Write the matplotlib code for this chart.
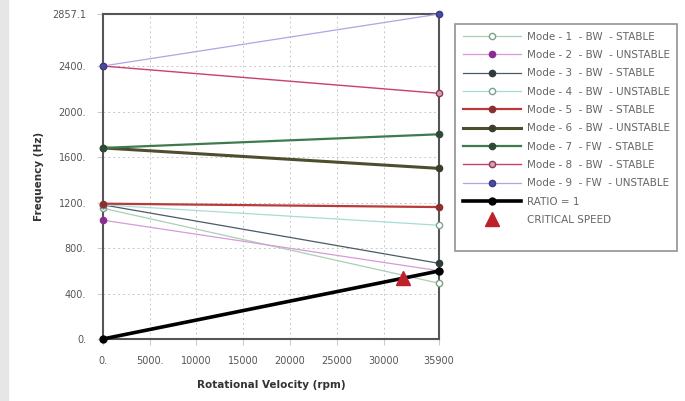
import matplotlib.pyplot as plt
from matplotlib.patches import Rectangle
from matplotlib.lines import Line2D

speed = [0, 35900]
mode1 = [1150, 490]
mode2 = [1045, 600]
mode3 = [1180, 665]
mode4 = [1180, 1000]
mode5 = [1190, 1160]
mode6 = [1680, 1500]
mode7 = [1680, 1800]
mode8 = [2400, 2160]
mode9 = [2400, 2857.1]
ratio = [0, 598.3]
crit_speed = [32000]
crit_freq = [535]

labels = ["Mode - 1  - BW  - STABLE", "Mode - 2  - BW  - UNSTABLE", "Mode - 3  - BW  - STABLE",
          "Mode - 4  - BW  - UNSTABLE", "Mode - 5  - BW  - STABLE", "Mode - 6  - BW  - UNSTABLE",
          "Mode - 7  - FW  - STABLE", "Mode - 8  - BW  - STABLE", "Mode - 9  - FW  - UNSTABLE",
          "RATIO = 1", "CRITICAL SPEED"]

xticks = [0, 5000, 10000, 15000, 20000, 25000, 30000, 35900]
xticklabels = ["0.", "5000.", "10000", "15000", "20000", "25000", "30000", "35900"]
yticks = [0, 400, 800, 1200, 1600, 2000, 2400, 2857.1]
yticklabels = ["0.", "400.", "800.", "1200.", "1600.", "2000.", "2400.", "2857.1"]

fig = plt.figure(figsize=(6.85, 4.01), dpi=100)
fig.patches.append(Rectangle((0, 0), 0.012, 1, transform=fig.transFigure, color="#e6e6e6", zorder=0))
ax = fig.add_axes([0.150, 0.1546, 0.491, 0.8104])

# (values, line colour, line width, marker face, marker edge)
styles = [
    (mode1, "#a8d0b4", 0.9, "white", "#7f9f88"),
    (mode2, "#d79ad8", 0.9, "#8a2d8e", "#8a2d8e"),
    (mode3, "#4b5a66", 0.9, "#2f3a3f", "#2f3a3f"),
    (mode4, "#a6dcd6", 0.9, "white", "#7f9f96"),
    (mode5, "#b83a3a", 1.6, "#8a3030", "#8a3030"),
    (mode6, "#4e4e2e", 2.2, "#3a3f2c", "#3a3f2c"),
    (mode7, "#3f7a4e", 1.6, "#2d4a35", "#2d4a35"),
    (mode8, "#c8406c", 1.0, "#d8a0b0", "#8a3a50"),
    (mode9, "#a8a8e6", 0.9, "#4a4aa0", "#3a3a80"),
]
for (vals, col, lw, mfc, mec), lab in zip(styles, labels):
    ax.plot(speed, vals, color=col, lw=lw, marker="o", ms=4.5, mfc=mfc, mec=mec,
            mew=1, label=lab, clip_on=False, zorder=3)

ax.plot(speed, ratio, color="black", lw=2.6, marker="o", ms=5, label=labels[9],
        clip_on=False, zorder=4)
ax.plot(crit_speed, crit_freq, ls="none", marker="^", ms=10, color="#c0202a",
        label=labels[10], zorder=5)

ax.set_xlim(0, 35900)
ax.set_ylim(0, 2857.1)
ax.set_xticks(xticks)
ax.set_xticklabels(xticklabels)
ax.set_yticks(yticks)
ax.set_yticklabels(yticklabels)
ax.tick_params(labelsize=7, labelcolor="#555555", length=4, color="#cccccc", pad=8)
ax.grid(True, ls=(0, (2, 3)), color="#c8c8c8", lw=0.7)
for s in ax.spines.values():
    s.set_color("#555555")
    s.set_linewidth(1.5)

ax.set_xlabel("Rotational Velocity (rpm)", fontsize=7.5, fontweight="bold", color="#333333", labelpad=10)
ax.set_ylabel("Frequency (Hz)", fontsize=7.5, fontweight="bold", color="#333333", labelpad=6)

handles, labs = ax.get_legend_handles_labels()
# blank row so the box reaches down like the original
handles.append(Line2D([], [], ls="none"))
labs.append(" ")
leg = ax.legend(handles, labs, loc="upper left", bbox_to_anchor=(0.657, 0.952),
                bbox_transform=fig.transFigure, fontsize=7.5, handlelength=5.6,
                labelspacing=0.8, fancybox=False, edgecolor="#777777", borderpad=0.7,
                handletextpad=0.6, frameon=True)
leg.get_frame().set_linewidth(1.2)
for t in leg.get_texts():
    t.set_color("#666666")

fig.savefig("out.png", dpi=100)
